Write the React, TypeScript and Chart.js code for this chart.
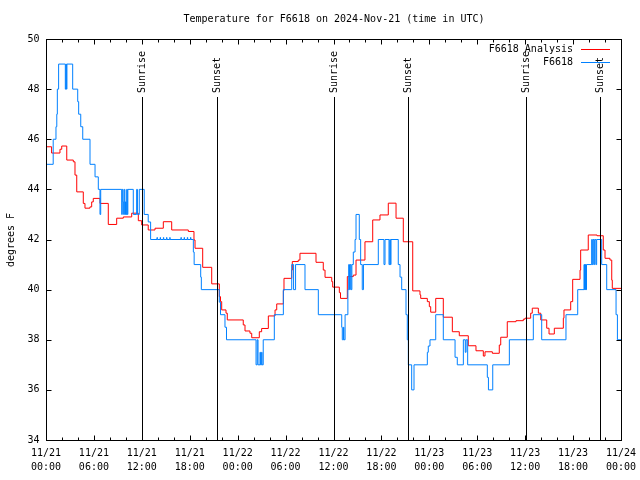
import React, { useEffect, useRef } from "react";
import { Chart, registerables } from "chart.js";

Chart.register(...registerables);

// ---- text ----
const TITLE = "Temperature for F6618 on 2024-Nov-21 (time in UTC)";
const Y_LABEL = "degrees F";
const SERIES_NAMES = ["F6618 Analysis", "F6618"];
const SERIES_COLORS = ["#ff0000", "#0080ff"];

// ---- axes ----
const X_MIN = 0; // hours since 11/21 00:00 UTC
const X_MAX = 72;
const Y_MIN = 34;
const Y_MAX = 50;
const xTickHours = [0, 6, 12, 18, 24, 30, 36, 42, 48, 54, 60, 66, 72];
const xTickDates = ["11/21", "11/21", "11/21", "11/21", "11/22", "11/22", "11/22", "11/22", "11/23", "11/23", "11/23", "11/23", "11/24"];
const xTickTimes = ["00:00", "06:00", "12:00", "18:00", "00:00", "06:00", "12:00", "18:00", "00:00", "06:00", "12:00", "18:00", "00:00"];
const X_MINOR_STEP = 2;
const yTicks = [34, 36, 38, 40, 42, 44, 46, 48, 50];

// ---- sun events (hours) ----
const sunHours = [12.0, 21.4, 36.05, 45.35, 60.1, 69.35];
const sunLabels = ["Sunrise", "Sunset", "Sunrise", "Sunset", "Sunrise", "Sunset"];
const SUN_LINE_TOP = 47.7;

// ---- F6618 Analysis (step changes: hour, °F) ----
const analysisHours = [
  0, 0.7, 1.75, 1.97, 2.6, 3.42, 3.63, 3.85, 4.67, 4.88, 5.5, 5.72, 5.92, 6.76, 7.8, 8.85, 9.68, 10.73,
  11.56, 11.98, 12.8, 13.65, 14.69, 15.74, 17.82, 18.53, 18.66, 19.62, 20.75, 21.7, 21.85, 22.0, 22.54, 22.7,
  24.7, 24.92, 25.54, 25.76, 26.71, 27.0, 27.84, 28.68, 28.89, 29.72, 29.8, 30.77, 30.84, 31.59, 31.8, 33.81,
  34.72, 34.94, 35.78, 35.9, 36.73, 36.88, 37.73, 38.48, 38.82, 39.94, 40.91, 41.82, 42.86, 43.83, 44.74, 45.92,
  46.83, 46.92, 47.75, 48.0, 48.17, 48.8, 49.75, 50.88, 51.75, 52.88, 53.84, 54.76, 54.97, 55.89, 56.76, 56.94,
  57.76, 58.85, 59.77, 59.98, 60.69, 60.89, 61.65, 61.95, 62.7, 62.99, 63.65, 64.78, 64.86, 65.7, 65.95, 66.87,
  66.95, 67.9, 69.0, 69.78, 70.0, 70.62, 70.84, 70.91, 72,
];
const analysisTemps = [
  45.7, 45.45, 45.6, 45.73, 45.17, 45.1, 44.57, 43.9, 43.44, 43.25, 43.3, 43.5, 43.64, 43.44, 42.6, 42.85, 42.9, 43.05,
  42.75, 42.58, 42.38, 42.45, 42.71, 42.38, 42.32, 41.98, 41.65, 40.89, 40.23, 39.72, 39.52, 39.19, 39.06, 38.79,
  38.59, 38.35, 38.26, 38.08, 38.32, 38.45, 38.95, 39.19, 39.43, 39.96, 40.45, 40.78, 41.12, 41.18, 41.45, 41.09,
  40.78, 40.49, 40.32, 40.1, 39.88, 39.65, 40.52, 40.58, 41.18, 41.91, 42.78, 42.98, 43.45, 42.85, 41.91, 39.95,
  39.79, 39.65, 39.52, 39.32, 39.1, 39.65, 38.9, 38.32, 38.16, 37.76, 37.56, 37.35, 37.52, 37.46, 37.79, 38.1,
  38.72, 38.76, 38.82, 38.86, 39.06, 39.26, 39.06, 38.79, 38.46, 38.23, 38.46, 38.86, 39.19, 39.52, 40.41, 40.78,
  41.58, 42.18, 42.15, 41.58, 41.25, 41.18, 40.38, 40.05, 40.05,
];

// ---- F6618 observed (step changes: hour, °F) ----
const obsHours = [
  0, 0.9, 1.25, 1.35, 1.42, 1.58, 2.42, 2.5, 2.55, 2.62, 3.34, 3.97, 4.09, 4.35, 4.6, 5.51, 6.14, 6.55, 6.76, 6.85,
  9.48, 9.55, 9.65, 9.72, 9.8, 9.88, 9.95, 10.02, 10.1, 10.18, 10.25, 10.93, 11.35, 11.45, 11.68, 12.3, 12.8, 13.1,
  13.9, 13.94, 14.3, 14.34, 14.7, 14.74, 15.1, 15.14, 15.5, 15.54, 16.9, 16.94, 17.3, 17.34, 17.7, 17.74, 18.1, 18.14,
  18.45, 18.55, 19.37, 19.45, 21.7, 21.85, 22.41, 22.6, 26.3, 26.45, 26.55, 26.8, 26.85, 27.0, 27.05, 27.2, 28.59,
  29.72, 30.77, 31.0, 31.25, 32.43, 34.1, 37.03, 37.1, 37.25, 37.3, 37.45, 37.8, 37.9, 38.0, 38.1, 38.2, 38.3, 38.48,
  38.7, 38.82, 39.23, 39.4, 39.6, 39.75, 41.61, 42.32, 42.45, 42.95, 43.05, 43.12, 43.2, 44.11, 44.33, 44.54, 45.08,
  45.24, 45.37, 45.79, 46.08, 47.75, 47.87, 48.08, 48.8, 49.75, 51.22, 51.5, 52.26, 52.5, 52.6, 52.8, 55.26, 55.4,
  55.94, 58.02, 61.02, 62.07, 65.11, 66.58, 67.37, 67.42, 67.47, 67.52, 67.57, 67.62, 67.68, 68.33, 68.4, 68.5,
  68.6, 68.7, 68.85, 68.95, 69.58, 70.21, 71.38, 71.55, 72,
];
const obsTemps = [
  45, 46, 46.5, 47, 48, 49, 48, 49, 48, 49, 48, 47.5, 47, 46.5, 46, 45, 44.5, 44, 43, 44,
  43, 44, 43.5, 43, 44, 43, 43.5, 43, 44, 43, 44, 43, 44, 43, 44, 43, 42.7, 42,
  42.08, 42, 42.08, 42, 42.08, 42, 42.08, 42, 42.08, 42, 42.08, 42, 42.08, 42, 42.08, 42, 42.08, 42,
  41.5, 41, 40.5, 40, 39.5, 39, 38.5, 38, 37, 38, 37, 37.5, 37, 37.5, 37, 38, 39,
  40, 41, 40, 41, 40, 39, 38.5, 38, 38.5, 38, 39, 40, 41, 40, 41, 40, 41, 41.5,
  42, 43, 42, 41, 40, 41, 42, 41, 42, 41, 42, 41, 42, 41, 40.5, 40, 39,
  38, 37, 36, 37, 37.5, 37.75, 38, 39, 38, 37.3, 37, 38, 37.5, 38, 37, 36.5, 36,
  37, 38, 39, 38, 39, 40, 41, 40, 41, 40, 41, 40, 41, 42, 41, 42,
  41, 42, 41, 42, 41, 40, 39, 38, 38,
];

const FONT = '10px "DejaVu Sans Mono", "Liberation Mono", monospace';

const decorPlugin = {
  id: "gnuplotDecor",
  beforeDraw(chart: any) {
    const ctx = chart.ctx;
    ctx.save();
    ctx.fillStyle = "#ffffff";
    ctx.fillRect(0, 0, chart.width, chart.height);
    ctx.restore();
  },
  afterDatasetsDraw(chart: any) {
    const { ctx, chartArea: a, scales } = chart;
    const xs = scales.x;
    const ys = scales.y;
    ctx.save();
    ctx.font = FONT;
    ctx.fillStyle = "#000";
    ctx.strokeStyle = "#000";
    ctx.lineWidth = 1;

    const L = Math.round(a.left) + 0.5;
    const R = Math.round(a.right) + 0.5;
    const T = Math.round(a.top) + 0.5;
    const B = Math.round(a.bottom) + 0.5;

    // sun lines + labels
    sunHours.forEach((h, i) => {
      const px = Math.round(xs.getPixelForValue(h)) + 0.5;
      const yTop = Math.round(ys.getPixelForValue(SUN_LINE_TOP));
      ctx.beginPath();
      ctx.moveTo(px, yTop);
      ctx.lineTo(px, B);
      ctx.stroke();
      ctx.save();
      ctx.translate(px, yTop - 4);
      ctx.rotate(-Math.PI / 2);
      ctx.textAlign = "left";
      ctx.textBaseline = "middle";
      ctx.fillText(sunLabels[i], 0, 0);
      ctx.restore();
    });

    // border
    ctx.strokeRect(L, T, R - L, B - T);

    // x ticks (major + minor, inward, mirrored)
    ctx.beginPath();
    for (let h = X_MIN; h <= X_MAX; h += X_MINOR_STEP) {
      const px = Math.round(xs.getPixelForValue(h)) + 0.5;
      const len = xTickHours.includes(h) ? 5 : 3;
      ctx.moveTo(px, B);
      ctx.lineTo(px, B - len);
      ctx.moveTo(px, T);
      ctx.lineTo(px, T + len);
    }
    // y ticks
    yTicks.forEach((v) => {
      const py = Math.round(ys.getPixelForValue(v)) + 0.5;
      ctx.moveTo(L, py);
      ctx.lineTo(L + 5, py);
      ctx.moveTo(R, py);
      ctx.lineTo(R - 5, py);
    });
    ctx.stroke();

    // x tick labels
    ctx.textAlign = "center";
    ctx.textBaseline = "middle";
    xTickHours.forEach((h, i) => {
      const px = xs.getPixelForValue(h);
      ctx.fillText(xTickDates[i], px, B + 13);
      ctx.fillText(xTickTimes[i], px, B + 27);
    });

    // y tick labels
    ctx.textAlign = "right";
    yTicks.forEach((v) => {
      const py = ys.getPixelForValue(v);
      ctx.fillText(String(v), L - 7, py);
    });

    // y axis title
    ctx.save();
    ctx.translate(11, (T + B) / 2);
    ctx.rotate(-Math.PI / 2);
    ctx.textAlign = "center";
    ctx.fillText(Y_LABEL, 0, 0);
    ctx.restore();

    // title
    ctx.textAlign = "center";
    ctx.fillText(TITLE, (L + R) / 2, 19);

    // legend
    SERIES_NAMES.forEach((name, i) => {
      const ly = 49 + i * 13;
      ctx.textAlign = "right";
      ctx.fillStyle = "#000";
      ctx.fillText(name, 573, ly);
      ctx.strokeStyle = SERIES_COLORS[i];
      ctx.beginPath();
      ctx.moveTo(581, ly + 0.5);
      ctx.lineTo(610, ly + 0.5);
      ctx.stroke();
    });

    ctx.restore();
  },
};

export default function App() {
  const canvasRef = useRef<HTMLCanvasElement | null>(null);

  useEffect(() => {
    if (!canvasRef.current) return;
    const analysisData = analysisHours.map((h, i) => ({ x: h, y: analysisTemps[i] }));
    const obsData = obsHours.map((h, i) => ({ x: h, y: obsTemps[i] }));
    const chart = new Chart(canvasRef.current, {
      type: "line",
      data: {
        datasets: [
          {
            label: SERIES_NAMES[0],
            data: analysisData,
            borderColor: SERIES_COLORS[0],
            borderWidth: 1,
            pointRadius: 0,
            stepped: true,
            fill: false,
            order: 1,
          },
          {
            label: SERIES_NAMES[1],
            data: obsData,
            borderColor: SERIES_COLORS[1],
            borderWidth: 1,
            pointRadius: 0,
            stepped: true,
            fill: false,
            order: 0,
          },
        ],
      },
      options: {
        animation: false,
        responsive: false,
        devicePixelRatio: 1,
        events: [],
        layout: { padding: { left: 46, right: 19, top: 39, bottom: 40 } },
        plugins: { legend: { display: false }, title: { display: false }, tooltip: { enabled: false } },
        scales: {
          x: { type: "linear", min: X_MIN, max: X_MAX, display: false },
          y: { type: "linear", min: Y_MIN, max: Y_MAX, display: false },
        },
      },
      plugins: [decorPlugin],
    });
    return () => chart.destroy();
  }, []);

  return (
    <div style={{ position: "absolute", left: 0, top: 0, width: 640, height: 480, background: "#fff" }}>
      <canvas ref={canvasRef} width={640} height={480} style={{ width: 640, height: 480, display: "block" }} />
    </div>
  );
}
